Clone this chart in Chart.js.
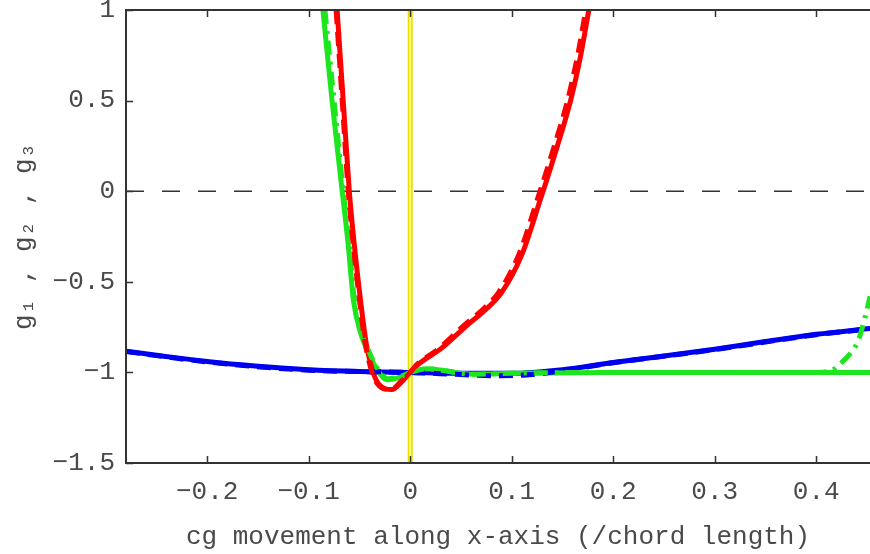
<!DOCTYPE html>
<html>
<head>
<meta charset="utf-8">
<script src="https://cdn.jsdelivr.net/npm/chart.js"></script>
<style>
  body { margin: 0; background: #fff; }
  canvas { display: block; }
</style>
</head>
<body>
<canvas id="grafico" width="870" height="554"></canvas>
<script>
// Ticks dos eixos
const ticksX = [-0.2, -0.1, 0, 0.1, 0.2, 0.3, 0.4];
const ticksY = [-1.5, -1, -0.5, 0, 0.5, 1];
const limitesX = [-0.28, 0.453];
const limitesY = [-1.5, 1];

// g1 (azul) - sólido e tracejado
const g1X  = [-0.28, -0.25, -0.2, -0.15, -0.1, -0.05, 0, 0.05, 0.1, 0.15, 0.2, 0.25, 0.3, 0.35, 0.4, 0.453];
const g1Y  = [-0.883, -0.905, -0.94, -0.966, -0.985, -0.995, -1.0, -1.005, -1.005, -0.985, -0.945, -0.91, -0.872, -0.83, -0.79, -0.758];
const g1tX = [-0.28, -0.2, -0.1, 0, 0.05, 0.08, 0.12, 0.15, 0.2, 0.3, 0.4, 0.453];
const g1tY = [-0.885, -0.942, -0.988, -1.0, -1.012, -1.018, -1.012, -0.99, -0.947, -0.874, -0.792, -0.76];

// g2 (verde) - sólido e traço-ponto
const g2X  = [-0.086, -0.077, -0.067, -0.061, -0.056, -0.049, -0.042, -0.033, -0.023, -0.012, 0, 0.017, 0.033, 0.05, 0.065, 0.1, 0.2, 0.3, 0.4, 0.453];
const g2Y  = [1.0, 0.5, 0.0, -0.3, -0.6, -0.78, -0.88, -0.98, -1.04, -1.03, -1.0, -0.98, -0.99, -1.005, -1.01, -1.005, -1.0, -1.0, -1.0, -1.0];
const g2tX = [-0.084, -0.075, -0.066, -0.06, -0.055, -0.048, -0.041, -0.032, -0.022, -0.011, 0, 0.017, 0.033, 0.05, 0.065, 0.1, 0.2, 0.3, 0.4, 0.415, 0.424, 0.433, 0.441, 0.448, 0.453];
const g2tY = [1.0, 0.5, 0.0, -0.3, -0.6, -0.78, -0.88, -0.98, -1.035, -1.025, -1.0, -0.98, -0.99, -1.005, -1.01, -1.005, -1.0, -1.0, -1.0, -0.99, -0.95, -0.9, -0.83, -0.7, -0.58];

// g3 (vermelho) - sólido e tracejado
const g3X  = [-0.072, -0.066, -0.06, -0.055, -0.049, -0.043, -0.031, -0.018, -0.008, 0, 0.007, 0.03, 0.056, 0.075, 0.09, 0.11, 0.128, 0.145, 0.158, 0.168, 0.176];
const g3Y  = [1.0, 0.5, 0.0, -0.3, -0.6, -0.85, -1.065, -1.095, -1.05, -1.0, -0.96, -0.87, -0.74, -0.65, -0.56, -0.35, -0.05, 0.25, 0.5, 0.75, 1.0];
const g3tX = [-0.073, -0.067, -0.061, -0.056, -0.05, -0.044, -0.032, -0.019, -0.009, 0, 0.006, 0.028, 0.053, 0.072, 0.087, 0.107, 0.125, 0.142, 0.155, 0.165, 0.173];
const g3tY = g3Y;

const pares = (xs, ys) => xs.map((x, i) => ({ x: x, y: ys[i] }));

const fonteMono = "'Liberation Mono', 'DejaVu Sans Mono', monospace";
const corTexto = "#4a4a4a";
const corEixo = "#333333";

function serie(dados, cor, larg, traco, ordem) {
    return {
        data: dados,
        borderColor: cor,
        borderWidth: larg,
        borderDash: traco || [],
        pointRadius: 0,
        fill: false,
        cubicInterpolationMode: "monotone",
        order: ordem,
    };
}

// Moldura e ticks internos (estilo MATLAB)
const moldura = {
    id: "moldura",
    afterDatasetsDraw(chart) {
        const { ctx, chartArea: a, scales } = chart;
        ctx.save();
        ctx.strokeStyle = corEixo;
        ctx.lineWidth = 2;
        ctx.beginPath();
        ctx.moveTo(a.right + 2, a.top);
        ctx.lineTo(a.left, a.top);
        ctx.lineTo(a.left, a.bottom);
        ctx.lineTo(a.right + 2, a.bottom);
        ctx.stroke();
        ctx.lineWidth = 1.5;
        ctx.beginPath();
        ticksX.forEach(v => {
            const px = Math.round(scales.x.getPixelForValue(v)) + 0.5;
            ctx.moveTo(px, a.bottom);
            ctx.lineTo(px, a.bottom - 7);
            ctx.moveTo(px, a.top);
            ctx.lineTo(px, a.top + 7);
        });
        ticksY.forEach(v => {
            const py = Math.round(scales.y.getPixelForValue(v)) + 0.5;
            ctx.moveTo(a.left, py);
            ctx.lineTo(a.left + 7, py);
        });
        ctx.stroke();
        ctx.restore();
    }
};

const rotulo = v => (v < 0 ? "\u2212" + String(Math.abs(v)) : String(v));

new Chart(document.getElementById("grafico"), {
    type: "line",
    data: {
        datasets: [
            // linha de referência em y = 0
            serie(pares(limitesX, [0, 0]), "#333333", 1.5, [18, 18], 20),
            // linha vertical amarela em x = 0
            serie(pares([0, 0], limitesY), "#e8dc00", 5, null, 19),
            serie(pares([0, 0], limitesY), "#ffff70", 2, null, 18),
            serie(pares(g1X, g1Y), "#0000f0", 5, null, 12),
            serie(pares(g2X, g2Y), "#1ee61e", 5, null, 11),
            serie(pares(g3X, g3Y), "#ff0000", 5, null, 10),
            serie(pares(g1tX, g1tY), "#0000f0", 5, [14, 8], 5),
            serie(pares(g2tX, g2tY), "#1ee61e", 5, [14, 7, 3, 7], 4),
            serie(pares(g3tX, g3tY), "#ff0000", 5, [14, 8], 3),
        ],
    },
    options: {
        responsive: false,
        animation: false,
        layout: { padding: { top: 10, right: 0, left: 0, bottom: 0 } },
        plugins: {
            legend: { display: false },
            tooltip: { enabled: false },
        },
        scales: {
            x: {
                type: "linear",
                min: limitesX[0],
                max: limitesX[1],
                afterBuildTicks: s => { s.ticks = ticksX.map(v => ({ value: v })); },
                afterFit: s => { s.height = 91; s.paddingLeft = 0; s.paddingRight = 0; },
                grid: { display: false, drawTicks: false },
                border: { display: false },
                ticks: {
                    padding: 14,
                    maxRotation: 0,
                    color: corTexto,
                    font: { family: fonteMono, size: 26 },
                    callback: rotulo,
                },
                title: {
                    display: true,
                    text: "cg movement along x-axis (/chord length)",
                    color: corTexto,
                    font: { family: fonteMono, size: 26 },
                    padding: { top: 0, bottom: 1 },
                },
            },
            y: {
                type: "linear",
                min: limitesY[0],
                max: limitesY[1],
                afterBuildTicks: s => { s.ticks = ticksY.map(v => ({ value: v })); },
                afterFit: s => { s.width = 126; s.paddingTop = 0; s.paddingBottom = 0; },
                grid: { display: false, drawTicks: false },
                border: { display: false },
                ticks: {
                    padding: 11,
                    color: corTexto,
                    font: { family: fonteMono, size: 26 },
                    callback: rotulo,
                },
                title: {
                    display: true,
                    text: "g\u2081 , g\u2082 , g\u2083",
                    color: corTexto,
                    font: { family: fonteMono, size: 26 },
                    padding: { top: 9, bottom: 0 },
                },
            },
        },
    },
    plugins: [moldura],
});
</script>
</body>
</html>
